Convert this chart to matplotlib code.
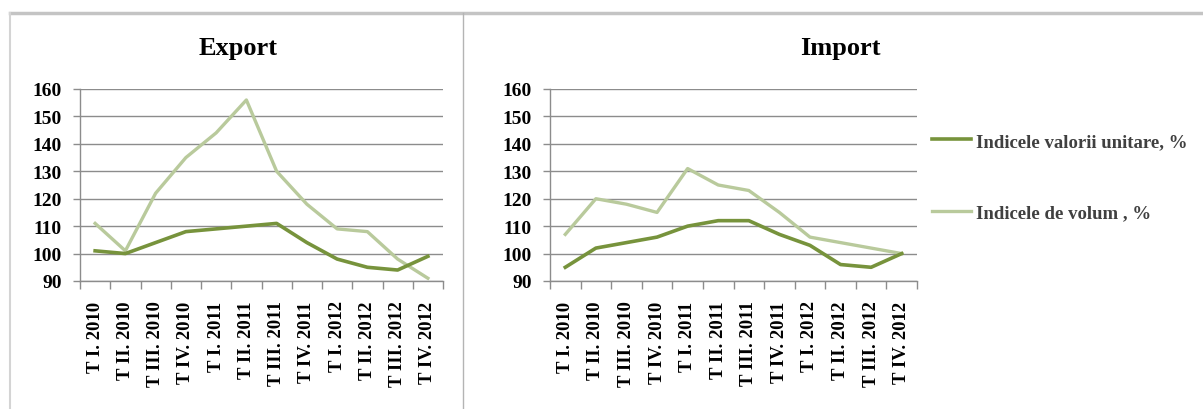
import matplotlib
matplotlib.use("Agg")
import matplotlib.pyplot as plt
from matplotlib.lines import Line2D

quarters = ["T I. 2010", "T II. 2010", "T III. 2010", "T IV. 2010",
            "T I. 2011", "T II. 2011", "T III. 2011", "T IV. 2011",
            "T I. 2012", "T II. 2012", "T III. 2012", "T IV. 2012"]

export_unit = [101, 100, 104, 108, 109, 110, 111, 104, 98, 95, 94, 99]
export_volume = [111, 101, 122, 135, 144, 156, 130, 118, 109, 108, 98, 91]

import_unit = [95, 102, 104, 106, 110, 112, 112, 107, 103, 96, 95, 100]
import_volume = [107, 120, 118, 115, 131, 125, 123, 115, 106, 104, 102, 100]

series_labels = ["Indicele valorii unitare, %", "Indicele de volum , %"]
yticks = [90, 100, 110, 120, 130, 140, 150, 160]

DARK = "#77933C"
LIGHT = "#B9CA9C"
GRID = "#8C8C8C"
SERIF = "Liberation Serif"

W, H = 1203, 410
fig = plt.figure(figsize=(W / 100, H / 100), dpi=100)
fig.patch.set_facecolor("white")


def make_axes(left_px, right_px, unit, volume):
    ax = fig.add_axes([left_px / W, (H - 282) / H, (right_px - left_px) / W, (282 - 90) / H])
    x = list(range(len(quarters)))
    ax.plot(x, volume, color=LIGHT, lw=2.4, solid_joinstyle="round", zorder=3)
    ax.plot(x, unit, color=DARK, lw=2.6, solid_joinstyle="round", zorder=4)
    ax.set_xlim(-0.5, len(quarters) - 0.5)
    ax.set_ylim(90, 160)
    ax.set_yticks(yticks)
    ax.set_yticklabels([str(v) for v in yticks], fontfamily=SERIF,
                       fontweight="bold", fontsize=14)
    ax.set_xticks(x)
    ax.set_xticklabels(quarters, rotation=90, fontfamily=SERIF,
                       fontweight="bold", fontsize=13.5)
    ax.set_xticks([i - 0.5 for i in range(len(quarters) + 1)], minor=True)
    ax.tick_params(axis="x", which="major", length=0, pad=14)
    ax.tick_params(axis="x", which="minor", length=6, color=GRID, width=1)
    ax.tick_params(axis="y", length=5, color=GRID, width=1, pad=8)
    ax.grid(axis="y", color=GRID, lw=1)
    ax.set_axisbelow(True)
    for s in ["top", "right"]:
        ax.spines[s].set_visible(False)
    for s in ["left", "bottom"]:
        ax.spines[s].set_color(GRID)
        ax.spines[s].set_linewidth(1)
    return ax


ax1 = make_axes(80, 443, export_unit, export_volume)
ax2 = make_axes(550, 917, import_unit, import_volume)

fig.text(238 / W, 1 - 48 / H, "Export", ha="center", va="center",
         fontfamily=SERIF, fontweight="bold", fontsize=19)
fig.text(840 / W, 1 - 48 / H, "Import", ha="center", va="center",
         fontfamily=SERIF, fontweight="bold", fontsize=19)

handles = [Line2D([], [], color=DARK, lw=2.6), Line2D([], [], color=LIGHT, lw=2.4)]
leg = fig.legend(handles, series_labels, loc="center left",
                 bbox_to_anchor=(932 / W, 1 - 178 / H), frameon=False,
                 borderpad=0, borderaxespad=0, handlelength=2.1,
                 handletextpad=0.25, labelspacing=2.9,
                 prop={"family": SERIF, "weight": "bold", "size": 13.5})
for t in leg.get_texts():
    t.set_color("#404040")

# panel borders
fig.add_artist(Line2D([10 / W, 1], [1 - 14 / H, 1 - 14 / H], color="#C4C4C4", lw=2.5))
fig.add_artist(Line2D([10 / W, 10 / W], [0, 1 - 14 / H], color="#D4D4D4", lw=1.5))
fig.add_artist(Line2D([463 / W, 463 / W], [0, 1 - 14 / H], color="#B4B4B4", lw=1))

fig.savefig("out.png", dpi=100)
